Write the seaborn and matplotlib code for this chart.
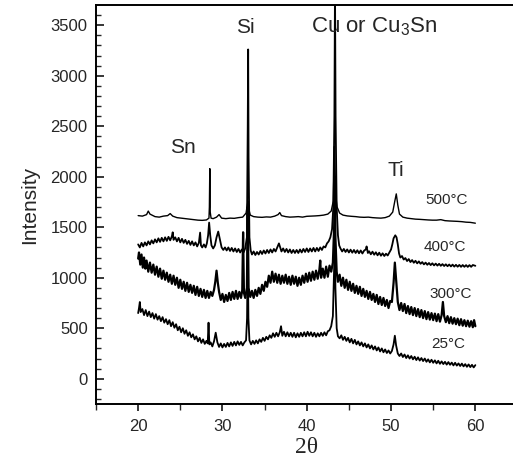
import matplotlib
matplotlib.use("Agg")
import matplotlib.pyplot as plt
import seaborn as sns
import pandas as pd

# ---- data (2theta, intensity) ----
pts_500 = [(20.0,1615),(20.5,1610),(21.0,1625),(21.2,1660),(21.4,1630),(22.0,1605),(22.5,1600),(23.0,1610),
    (23.5,1615),(23.8,1635),(24.1,1610),(24.6,1595),(25.1,1590),(25.6,1585),(26.1,1580),(26.6,1575),(27.1,1570),
    (27.6,1568),(28.1,1572),(28.4,1590),(28.45,1700),(28.5,2080),(28.55,1650),(28.65,1590),(28.9,1585),(29.3,1600),
    (29.6,1625),(29.9,1590),(30.4,1585),(30.9,1590),(31.4,1588),(31.9,1595),(32.4,1600),(32.8,1640),(32.95,1720),
    (33.03,1760),(33.1,1690),(33.3,1620),(33.7,1605),(34.2,1600),(34.7,1598),(35.2,1602),(35.7,1600),(36.2,1610),
    (36.6,1625),(36.8,1645),(37.0,1615),(37.5,1605),(38.0,1600),(38.5,1602),(39.0,1605),(39.5,1600),(40.0,1608),
    (40.5,1610),(41.0,1612),(41.5,1615),(42.0,1620),(42.5,1630),(42.9,1660),(43.15,1760),(43.28,2300),(43.35,2100),
    (43.45,1800),(43.6,1700),(43.9,1640),(44.3,1620),(44.8,1612),(45.3,1608),(45.8,1605),(46.3,1600),(46.8,1598),
    (47.3,1600),(47.8,1595),(48.3,1592),(48.8,1590),(49.3,1595),(49.8,1610),(50.2,1650),(50.45,1760),(50.62,1830),
    (50.8,1720),(51.0,1630),(51.4,1600),(51.9,1590),(52.4,1585),(52.9,1580),(53.4,1578),(53.9,1575),(54.4,1572),
    (54.9,1570),(55.4,1570),(55.9,1575),(56.4,1565),(56.9,1562),(57.4,1560),(57.9,1558),(58.4,1555),(58.9,1550),
    (59.4,1548),(60.0,1540)]

pts_400 = [(20.0,1330),(20.2,1300),(20.4,1345),(20.6,1310),(20.8,1350),(21.0,1320),(21.2,1360),(21.4,1330),
    (21.6,1370),(21.8,1340),(22.0,1380),(22.2,1350),(22.4,1390),(22.6,1355),(22.8,1395),(23.0,1360),(23.2,1400),
    (23.4,1365),(23.6,1405),(23.8,1370),(24.0,1410),(24.1,1450),(24.2,1375),(24.4,1400),(24.6,1360),(24.8,1395),
    (25.0,1350),(25.2,1385),(25.4,1345),(25.6,1375),(25.8,1335),(26.0,1365),(26.2,1325),(26.4,1360),(26.6,1320),
    (26.8,1350),(27.0,1310),(27.2,1345),(27.35,1447),(27.45,1320),(27.6,1300),(27.8,1330),(28.0,1300),(28.15,1340),
    (28.3,1420),(28.42,1546),(28.55,1420),(28.7,1320),(28.9,1290),(29.1,1320),(29.3,1400),(29.5,1457),(29.7,1380),
    (29.9,1300),(30.1,1275),(30.3,1300),(30.5,1270),(30.7,1300),(30.9,1265),(31.1,1295),(31.3,1260),(31.5,1290),
    (31.7,1255),(31.9,1285),(32.1,1250),(32.3,1280),(32.5,1250),(32.7,1290),(32.9,1400),(33.0,2500),(33.05,3260),
    (33.1,2200),(33.2,1400),(33.35,1270),(33.5,1230),(33.7,1260),(33.9,1225),(34.1,1255),(34.3,1230),(34.5,1265),
    (34.7,1235),(34.9,1270),(35.1,1240),(35.3,1275),(35.5,1245),(35.7,1280),(35.9,1250),(36.1,1285),(36.3,1260),
    (36.5,1300),(36.7,1340),(36.85,1300),(37.0,1260),(37.2,1290),(37.4,1255),(37.6,1285),(37.8,1250),(38.0,1280),
    (38.2,1245),(38.4,1275),(38.6,1245),(38.8,1275),(39.0,1245),(39.2,1280),(39.4,1250),(39.6,1285),(39.8,1255),
    (40.0,1290),(40.2,1255),(40.4,1290),(40.6,1260),(40.8,1295),(41.0,1260),(41.2,1295),(41.4,1265),(41.6,1300),
    (41.8,1275),(42.0,1310),(42.2,1300),(42.4,1340),(42.6,1360),(42.8,1400),(43.0,1480),(43.15,1700),(43.28,2600),
    (43.35,3900),(43.42,2600),(43.55,1700),(43.7,1420),(43.85,1320),(44.0,1290),(44.2,1260),(44.4,1285),(44.6,1255),
    (44.8,1280),(45.0,1250),(45.2,1278),(45.4,1248),(45.6,1275),(45.8,1245),(46.0,1272),(46.2,1242),(46.4,1270),
    (46.6,1240),(46.8,1268),(47.0,1280),(47.1,1310),(47.25,1245),(47.4,1262),(47.6,1232),(47.8,1258),(48.0,1228),
    (48.2,1252),(48.4,1222),(48.6,1248),(48.8,1218),(49.0,1242),(49.2,1215),(49.4,1238),(49.6,1220),(49.8,1250),
    (50.0,1280),(50.15,1330),(50.3,1390),(50.5,1420),(50.65,1400),(50.8,1330),(50.95,1240),(51.1,1200),(51.3,1215),
    (51.5,1180),(51.7,1195),(51.9,1165),(52.1,1185),(52.3,1155),(52.5,1175),(52.7,1148),(52.9,1168),(53.1,1142),
    (53.3,1162),(53.5,1138),(53.7,1155),(53.9,1132),(54.1,1150),(54.3,1128),(54.5,1146),(54.7,1125),(54.9,1143),
    (55.1,1122),(55.3,1140),(55.5,1120),(55.7,1138),(55.9,1118),(56.1,1135),(56.3,1116),(56.5,1133),(56.7,1114),
    (56.9,1131),(57.1,1112),(57.3,1130),(57.5,1110),(57.7,1128),(57.9,1109),(58.1,1127),(58.3,1108),(58.5,1126),
    (58.7,1108),(58.9,1125),(59.1,1107),(59.3,1125),(59.5,1108),(59.7,1126),(60.0,1118)]

pts_300 = [(20.0,1190),(20.1,1250),(20.25,1130),(20.4,1230),(20.55,1100),(20.7,1200),(20.85,1090),(21.0,1170),
    (21.2,1060),(21.4,1150),(21.6,1050),(21.8,1130),(22.0,1030),(22.2,1110),(22.4,1010),(22.6,1090),(22.8,990),
    (23.0,1070),(23.2,980),(23.4,1050),(23.6,960),(23.8,1030),(24.0,940),(24.2,1020),(24.4,930),(24.6,1000),
    (24.8,900),(25.0,980),(25.2,890),(25.4,960),(25.6,870),(25.8,950),(26.0,860),(26.2,930),(26.4,850),(26.6,920),
    (26.8,830),(27.0,910),(27.2,820),(27.4,890),(27.6,810),(27.8,880),(28.0,800),(28.2,870),(28.4,800),(28.6,860),
    (28.8,820),(29.0,880),(29.15,960),(29.3,1070),(29.45,950),(29.6,860),(29.8,780),(30.0,840),(30.2,760),
    (30.4,830),(30.6,770),(30.8,850),(31.0,780),(31.2,860),(31.4,790),(31.6,870),(31.8,790),(32.0,860),(32.2,800),
    (32.35,880),(32.45,1450),(32.55,850),(32.7,800),(32.9,900),(33.0,1700),(33.1,900),(33.3,810),(33.5,870),
    (33.7,800),(33.9,880),(34.1,820),(34.3,900),(34.5,840),(34.7,930),(34.9,870),(35.1,960),(35.3,910),(35.5,1020),
    (35.7,950),(35.9,1060),(36.1,960),(36.3,1040),(36.5,950),(36.7,1030),(36.9,940),(37.1,1020),(37.3,950),
    (37.5,1030),(37.7,940),(37.9,1010),(38.1,930),(38.3,1020),(38.5,940),(38.7,1010),(38.9,920),(39.1,1000),
    (39.3,930),(39.5,1020),(39.7,950),(39.9,1040),(40.1,960),(40.3,1050),(40.5,970),(40.7,1060),(40.9,980),
    (41.1,1070),(41.3,990),(41.5,1080),(41.6,1170),(41.7,1000),(41.9,1090),(42.1,1000),(42.3,1110),(42.5,1010),
    (42.7,1120),(42.9,1060),(43.1,1150),(43.25,1500),(43.32,2000),(43.4,1400),(43.55,1060),(43.7,960),(43.9,1030),
    (44.1,920),(44.3,1000),(44.5,900),(44.7,980),(44.9,880),(45.1,960),(45.3,870),(45.5,940),(45.7,850),(45.9,920),
    (46.1,840),(46.3,910),(46.5,820),(46.7,890),(46.9,810),(47.1,870),(47.3,790),(47.5,860),(47.7,780),(47.9,840),
    (48.1,760),(48.3,830),(48.5,740),(48.7,810),(48.9,730),(49.1,800),(49.3,720),(49.5,780),(49.7,700),(49.9,770),
    (50.1,760),(50.3,950),(50.45,1150),(50.6,980),(50.8,760),(51.0,680),(51.2,750),(51.4,670),(51.6,740),
    (51.8,650),(52.0,720),(52.2,640),(52.4,710),(52.6,630),(52.8,700),(53.0,620),(53.2,690),(53.4,610),(53.6,680),
    (53.8,600),(54.0,670),(54.2,590),(54.4,660),(54.6,585),(54.8,650),(55.0,580),(55.2,645),(55.4,570),(55.6,640),
    (55.8,565),(56.0,630),(56.15,760),(56.3,620),(56.5,560),(56.7,620),(56.9,550),(57.1,610),(57.3,545),(57.5,600),
    (57.7,540),(57.9,595),(58.1,530),(58.3,590),(58.5,525),(58.7,580),(58.9,520),(59.1,575),(59.3,515),(59.5,570),
    (59.7,510),(59.85,580),(60.0,520)]

pts_25 = [(20.0,650),(20.1,700),(20.2,760),(20.3,660),(20.5,690),(20.7,630),(20.9,680),(21.1,620),(21.3,665),
    (21.5,610),(21.7,650),(21.9,595),(22.1,640),(22.3,585),(22.5,620),(22.7,570),(22.9,610),(23.1,555),(23.3,590),
    (23.5,540),(23.7,580),(23.9,520),(24.1,560),(24.3,505),(24.5,540),(24.7,480),(24.9,515),(25.1,460),(25.3,500),
    (25.5,445),(25.7,480),(25.9,425),(26.1,460),(26.3,410),(26.5,440),(26.7,390),(26.9,420),(27.1,370),(27.3,405),
    (27.5,355),(27.7,390),(27.9,345),(28.1,375),(28.25,350),(28.35,555),(28.45,340),(28.6,360),(28.8,320),
    (29.0,370),(29.2,456),(29.4,360),(29.6,315),(29.8,350),(30.0,310),(30.2,345),(30.4,315),(30.6,355),(30.8,320),
    (31.0,360),(31.2,325),(31.4,365),(31.6,330),(31.8,370),(32.0,335),(32.2,365),(32.4,330),(32.6,360),(32.8,380),
    (32.92,600),(33.0,1300),(33.08,600),(33.2,380),(33.4,340),(33.6,375),(33.8,345),(34.0,380),(34.2,350),
    (34.4,390),(34.6,365),(34.8,405),(35.0,375),(35.2,415),(35.4,390),(35.6,430),(35.8,405),(36.0,450),(36.2,415),
    (36.4,455),(36.6,420),(36.8,460),(36.95,520),(37.1,425),(37.3,465),(37.5,420),(37.7,460),(37.9,420),(38.1,455),
    (38.3,415),(38.5,455),(38.7,410),(38.9,450),(39.1,415),(39.3,455),(39.5,420),(39.7,460),(39.9,420),(40.1,465),
    (40.3,425),(40.5,460),(40.7,420),(40.9,455),(41.1,415),(41.3,450),(41.5,420),(41.7,455),(41.9,425),(42.1,460),
    (42.3,430),(42.5,470),(42.7,480),(42.9,520),(43.1,620),(43.25,1100),(43.32,1500),(43.4,900),(43.55,500),
    (43.7,420),(43.9,400),(44.1,430),(44.3,385),(44.5,415),(44.7,375),(44.9,405),(45.1,360),(45.3,395),(45.5,350),
    (45.7,385),(45.9,340),(46.1,370),(46.3,330),(46.5,360),(46.7,320),(46.9,350),(47.1,310),(47.3,340),(47.5,300),
    (47.7,330),(47.9,290),(48.1,320),(48.3,280),(48.5,310),(48.7,270),(48.9,300),(49.1,262),(49.3,290),(49.5,255),
    (49.7,280),(49.9,250),(50.1,275),(50.3,340),(50.45,426),(50.6,330),(50.8,250),(51.0,225),(51.2,250),(51.4,215),
    (51.6,240),(51.8,205),(52.0,232),(52.2,200),(52.4,225),(52.6,192),(52.8,218),(53.0,185),(53.2,212),(53.4,180),
    (53.6,205),(53.8,175),(54.0,200),(54.2,168),(54.4,192),(54.6,162),(54.8,188),(55.0,158),(55.2,182),(55.4,152),
    (55.6,178),(55.8,148),(56.0,172),(56.2,145),(56.4,168),(56.6,140),(56.8,165),(57.0,138),(57.2,160),(57.4,132),
    (57.6,158),(57.8,130),(58.0,152),(58.2,126),(58.4,150),(58.6,122),(58.8,145),(59.0,118),(59.2,142),(59.4,115),
    (59.6,138),(59.8,112),(60.0,135)]

series_names = ["500°C", "400°C", "300°C", "25°C"]
series_widths = [1.0, 1.3, 1.6, 1.3]

# label annotations
peak_labels = ["Sn", "Si", "Cu or Cu$_3$Sn", "Ti"]
peak_x = [25.3, 32.7, 48.0, 50.6]
peak_y = [2290, 3480, 3490, 2061]
peak_sizes = [15, 15, 16, 15]
temp_x = [56.6, 56.4, 57.1, 56.8]
temp_y = [1774, 1300, 842, 347]

xticks = [20, 30, 40, 50, 60]
yticks = [0, 500, 1000, 1500, 2000, 2500, 3000, 3500]

sns.set_style("ticks")
plt.rcParams["font.family"] = ["Liberation Sans", "DejaVu Sans"]
plt.rcParams["mathtext.fontset"] = "custom"
plt.rcParams["mathtext.rm"] = "Liberation Sans"
plt.rcParams["mathtext.it"] = "Liberation Sans"

fig = plt.figure(figsize=(5.13, 4.63), dpi=100)
ax = fig.add_axes([96/513, 59/463, 421.5/513, 399/463])

for name, pts, lw in zip(series_names, [pts_500, pts_400, pts_300, pts_25], series_widths):
    df = pd.DataFrame(pts, columns=["tt", "I"])
    sns.lineplot(data=df, x="tt", y="I", ax=ax, color="black", lw=lw,
                 estimator=None, sort=False)

for t, x, y, fs in zip(peak_labels, peak_x, peak_y, peak_sizes):
    ax.text(x, y, t, fontsize=fs, ha="center", va="center")
for t, x, y in zip(series_names, temp_x, temp_y):
    ax.text(x, y, t, fontsize=11, ha="center", va="center")

ax.set_xlim(15, 65)
ax.set_ylim(-250, 3700)
ax.set_xticks(xticks)
ax.set_xticks([15, 25, 35, 45, 55, 65], minor=True)
ax.set_yticks(yticks)
ax.set_yticks(list(range(-200, 3700, 100)), minor=True)
ax.tick_params(axis="y", which="major", direction="in", length=6, width=1.3, labelsize=12, pad=6)
ax.tick_params(axis="y", which="minor", direction="in", length=3.5, width=1.0)
ax.tick_params(axis="x", which="major", direction="out", length=5, width=1.3, labelsize=12, pad=6)
ax.tick_params(axis="x", which="minor", direction="out", length=4, width=1.0)
for s in ax.spines.values():
    s.set_linewidth(1.4)
    s.set_color("black")
ax.spines["right"].set_visible(False)
ax.set_xlabel("2θ", fontsize=17, family=["Liberation Serif", "DejaVu Serif"], labelpad=2)
ax.set_ylabel("Intensity", fontsize=15, labelpad=8)

fig.savefig("out.png", dpi=100)
